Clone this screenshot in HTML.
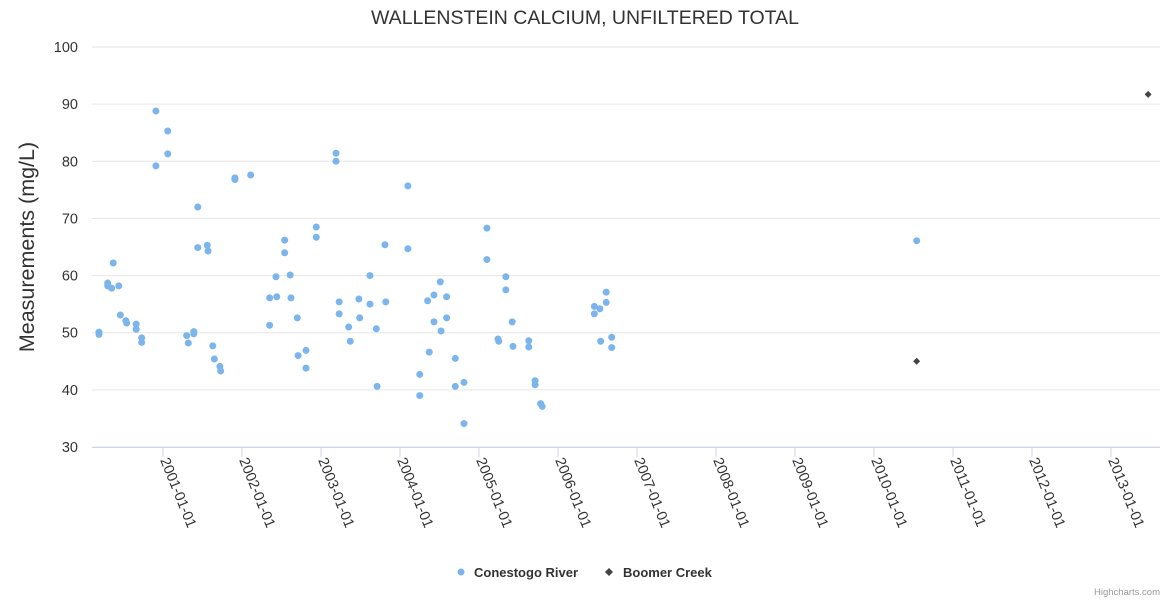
<!DOCTYPE html>
<html><head><meta charset="utf-8"><style>
body{margin:0;background:#fff;font-family:"Liberation Sans",sans-serif}
</style></head><body>
<svg id="chart" width="1170" height="600" xmlns="http://www.w3.org/2000/svg" font-family="Liberation Sans, sans-serif">
<rect width="1170" height="600" fill="#fff"/>
<text x="585" y="24" text-anchor="middle" font-size="19.5" fill="#333">WALLENSTEIN CALCIUM, UNFILTERED TOTAL</text>
<text transform="translate(34,247) rotate(-90)" text-anchor="middle" font-size="21.5" fill="#333">Measurements (mg/L)</text>
<g id="grid"></g><g id="ylabels"></g><g id="xlabels"></g><g id="marks"></g>
<g>
<circle cx="461" cy="572" r="3.5" fill="#7cb5ec"/>
<text x="474" y="577" font-size="13" font-weight="bold" fill="#333">Conestogo River</text>
<path d="M609 568 L613 572 L609 576 L605 572 Z" fill="#434348"/>
<text x="623" y="577" font-size="13" font-weight="bold" fill="#333">Boomer Creek</text>
</g>
<text x="1160" y="595" text-anchor="end" font-size="9.5" fill="#999">Highcharts.com</text>
</svg>
<script>
const conestogoDates=[2000.19,2000.19,2000.30,2000.30,2000.35,2000.37,2000.44,2000.46,2000.53,2000.54,2000.66,2000.66,2000.73,2000.73,2000.91,2000.91,2001.06,2001.06,2001.30,2001.32,2001.39,2001.39,2001.44,2001.44,2001.56,2001.57,2001.63,2001.65,2001.72,2001.73,2001.91,2001.91,2002.11,2002.35,2002.35,2002.43,2002.44,2002.54,2002.54,2002.61,2002.62,2002.70,2002.71,2002.81,2002.81,2002.94,2002.94,2003.19,2003.19,2003.23,2003.23,2003.35,2003.37,2003.48,2003.49,2003.62,2003.62,2003.70,2003.71,2003.81,2003.82,2004.10,2004.10,2004.25,2004.25,2004.35,2004.37,2004.43,2004.43,2004.51,2004.52,2004.59,2004.59,2004.70,2004.70,2004.81,2004.81,2005.10,2005.10,2005.24,2005.25,2005.34,2005.34,2005.42,2005.43,2005.63,2005.63,2005.71,2005.71,2005.78,2005.80,2006.46,2006.46,2006.53,2006.54,2006.61,2006.61,2006.68,2006.68,2010.54];
const conestogoValues=[50.1,49.7,58.7,58.2,57.8,62.2,58.2,53.1,52.1,51.7,51.5,50.6,49.1,48.3,88.8,79.2,85.3,81.3,49.5,48.2,50.2,49.8,72.0,64.9,65.3,64.3,47.7,45.4,44.1,43.3,77.1,76.8,77.6,56.1,51.3,59.8,56.3,66.2,64.0,60.1,56.1,52.6,46.0,46.9,43.8,68.5,66.7,81.4,80.0,55.4,53.3,51.0,48.5,55.9,52.6,60.0,55.0,50.7,40.6,65.4,55.4,75.7,64.7,42.7,39.0,55.6,46.6,56.6,51.9,58.9,50.3,56.3,52.6,45.5,40.6,41.3,34.1,68.3,62.8,48.9,48.5,59.8,57.5,51.9,47.6,48.6,47.5,41.6,40.9,37.6,37.1,54.6,53.3,54.2,48.5,57.1,55.3,49.2,47.4,66.1];
const boomerDates=[2010.54,2013.47];
const boomerValues=[45.0,91.7];
const yTicks=[30,40,50,60,70,80,90,100];
const xTickYears=[2001,2002,2003,2004,2005,2006,2007,2008,2009,2010,2011,2012,2013];
const xTickLabels=["2001-01-01","2002-01-01","2003-01-01","2004-01-01","2005-01-01","2006-01-01","2007-01-01","2008-01-01","2009-01-01","2010-01-01","2011-01-01","2012-01-01","2013-01-01"];

const NS="http://www.w3.org/2000/svg";
const X0=92,X1=1160,Y0=447,Y1=47;
function xs(yr){return 163+(yr-2001)*79;}
function ys(v){return Y0-(v-30)*(Y0-Y1)/70;}
function mk(tag,attrs,parent){const e=document.createElementNS(NS,tag);for(const k in attrs)e.setAttribute(k,attrs[k]);parent.appendChild(e);return e;}
const grid=document.getElementById('grid'),yl=document.getElementById('ylabels'),xl=document.getElementById('xlabels'),marks=document.getElementById('marks');
yTicks.forEach(t=>{
  const l=mk('line',{x1:X0,x2:X1,y1:ys(t),y2:ys(t),stroke:'#e6e6e6','stroke-width':1},grid);
  
  
  const tx=mk('text',{x:X0-14,y:ys(t)+5,'text-anchor':'end','font-size':14.5,fill:'#333'},yl);
  tx.textContent=t;
  
  
});
const axl=mk('line',{x1:X0,x2:X1,y1:Y0+0.5,y2:Y0+0.5,stroke:'#ccd6eb','stroke-width':1},grid);


xTickYears.forEach((yr,i)=>{
  const x=xs(yr);
  const tk=mk('line',{x1:x,x2:x,y1:Y0,y2:Y0+10,stroke:'#ccd6eb'},grid);
  
  
  const tx=mk('text',{x:0,y:0,'font-size':14.5,fill:'#333',transform:'translate('+(x-3)+','+(Y0+13)+') rotate(68)'},xl);
  tx.textContent=xTickLabels[i];
  
  
});
conestogoDates.forEach((d,i)=>{
  const c=mk('circle',{cx:xs(d),cy:ys(conestogoValues[i]),r:3.5,fill:'#7cb5ec'},marks);
  
  
});
boomerDates.forEach((d,i)=>{
  const x=xs(d),y=ys(boomerValues[i]);
  const p=mk('path',{d:'M'+x+' '+(y-3.5)+' L'+(x+3.5)+' '+y+' L'+x+' '+(y+3.5)+' L'+(x-3.5)+' '+y+' Z',fill:'#434348'},marks);
  
  
});
</script>
</body></html>
